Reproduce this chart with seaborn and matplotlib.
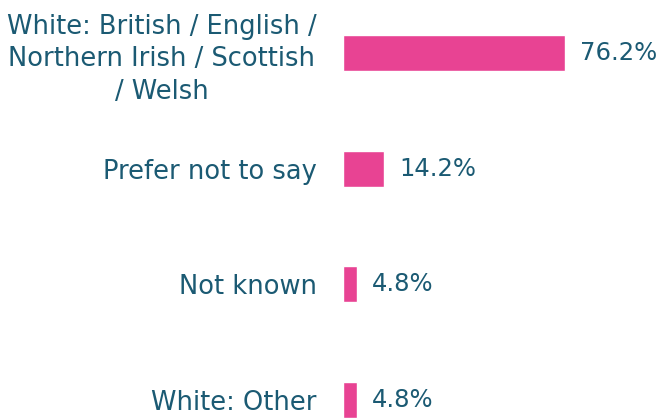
import pandas as pd
import matplotlib.pyplot as plt
import seaborn as sns

# Dados do gráfico
categorias = [
    "White: British / English /\nNorthern Irish / Scottish\n/ Welsh",
    "Prefer not to say",
    "Not known",
    "White: Other",
]
percentuais = [76.2, 14.2, 4.8, 4.8]
rotulos = ["76.2%", "14.2%", "4.8%", "4.8%"]

cor_barra = "#E84393"
cor_texto = "#1B5A73"

sns.set_style("white")
plt.rcParams['font.family'] = ['DejaVu Sans']

df = pd.DataFrame({"Categoria": categorias, "Percentual": percentuais})

fig = plt.figure(figsize=(6.61, 4.19), dpi=100)
ax = fig.add_axes([343 / 661, 0, 318 / 661, 1])

sns.barplot(data=df, y="Categoria", x="Percentual", color=cor_barra,
            width=0.31, orient="h", ax=ax, saturation=1)

ax.set_xlim(0, 109.2)
ax.set_ylim(3.164, -0.458)

ax.bar_label(ax.containers[0], labels=rotulos, padding=11,
             fontsize=17.5, color=cor_texto)

ax.set_xlabel("")
ax.set_ylabel("")
ax.set_xticks([])
ax.tick_params(axis="y", length=0, pad=19, labelsize=18.5, labelcolor=cor_texto)
for t in ax.get_yticklabels():
    t.set_multialignment("center")
    t.set_linespacing(1.32)
sns.despine(ax=ax, left=True, bottom=True)

plt.savefig("out.png", dpi=100)
plt.close()
